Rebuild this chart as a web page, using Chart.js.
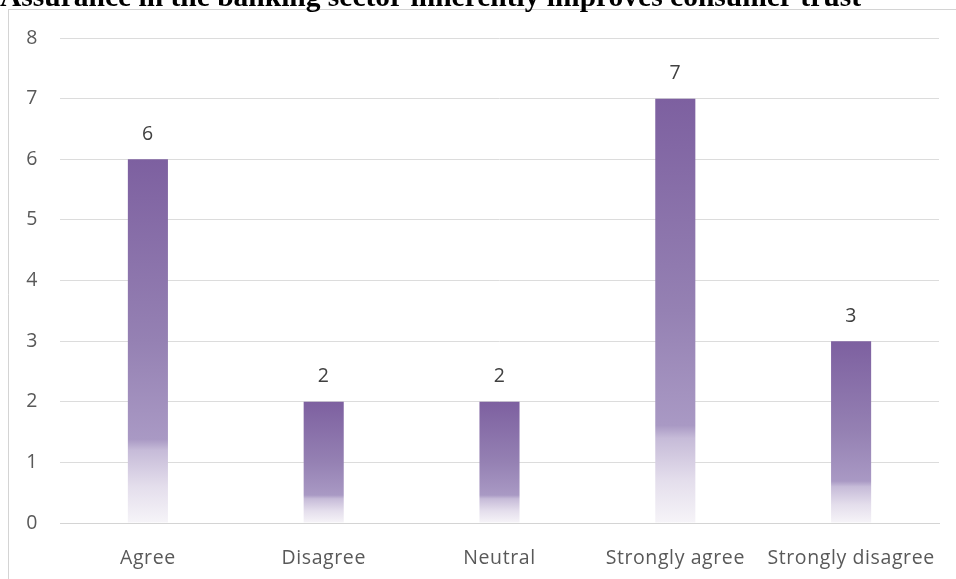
<!DOCTYPE html>
<html>
<head>
<meta charset="utf-8">
<script src="https://cdn.jsdelivr.net/npm/chart.js@4.4.1/dist/chart.umd.min.js"></script>
<style>
  html, body { margin: 0; padding: 0; background: #fff; overflow: hidden; }
  #wrap { position: relative; width: 956px; height: 579px; }
</style>
</head>
<body>
<div id="wrap"><canvas id="c" width="956" height="579"></canvas></div>
<script>
const chartTitle = 'Assurance in the banking sector inherently improves consumer trust';
const categories = ['Agree', 'Disagree', 'Neutral', 'Strongly agree', 'Strongly disagree'];
const responses = [6, 2, 2, 7, 3];
const yMin = 0;
const yMax = 8;
const yStep = 1;

const labelFont = { family: "'Open Sans', sans-serif", size: 19.5 };

// Purple fill that fades to white towards the base of every bar
function barGradient(ctx) {
  const chart = ctx.chart;
  if (!chart.chartArea || ctx.raw === undefined) return '#8d73ad';
  const y = chart.scales.y;
  const top = y.getPixelForValue(ctx.raw);
  const base = y.getPixelForValue(0);
  const g = chart.ctx.createLinearGradient(0, top, 0, base);
  g.addColorStop(0, '#7d60a0');
  g.addColorStop(0.5, '#9581b3');
  g.addColorStop(0.77, '#a999c4');
  g.addColorStop(0.80, '#c6bbd8');
  g.addColorStop(0.9, '#e4deec');
  g.addColorStop(1, '#f6f4f8');
  return g;
}

// Page frame and heading drawn behind the plot
const framePlugin = {
  id: 'frame',
  beforeDraw(chart) {
    const c = chart.ctx;
    c.save();
    c.fillStyle = '#ffffff';
    c.fillRect(0, 0, chart.width, chart.height);
    c.strokeStyle = '#d4d4d4';
    c.lineWidth = 1;
    c.beginPath();
    c.moveTo(8, 9.5);
    c.lineTo(chart.width, 9.5);
    c.moveTo(8.5, 9.5);
    c.lineTo(8.5, chart.height);
    c.stroke();
    c.fillStyle = '#000000';
    c.font = "bold 29.5px 'Liberation Serif', 'Times New Roman', serif";
    c.textAlign = 'left';
    c.textBaseline = 'alphabetic';
    c.fillText(chartTitle, 0, 6);
    c.restore();
    // slightly open tracking for the axis and value text that follows
    c.letterSpacing = '0.6px';
  }
};

// Value written above each bar
const valueLabels = {
  id: 'valueLabels',
  afterDatasetsDraw(chart) {
    const c = chart.ctx;
    const meta = chart.getDatasetMeta(0);
    c.save();
    c.fillStyle = '#404040';
    c.font = `${labelFont.size}px ${labelFont.family}`;
    c.textAlign = 'center';
    c.textBaseline = 'middle';
    meta.data.forEach((bar, i) => {
      c.fillText(String(responses[i]), bar.x, bar.y - 25);
    });
    c.restore();
  }
};

new Chart(document.getElementById('c'), {
  type: 'bar',
  data: {
    labels: categories,
    datasets: [{
      data: responses,
      backgroundColor: barGradient,
      borderWidth: 0,
      barPercentage: 0.228,
      categoryPercentage: 1
    }]
  },
  options: {
    responsive: false,
    animation: false,
    devicePixelRatio: 1,
    layout: { padding: { left: 0, right: 17, top: 38, bottom: 0 } },
    plugins: {
      legend: { display: false },
      title: { display: false },
      tooltip: { enabled: false }
    },
    scales: {
      x: {
        grid: { display: false },
        border: { color: '#d4d4d4' },
        ticks: { color: '#595959', font: labelFont, padding: 16, maxRotation: 0, autoSkip: false },
        afterFit(s) { s.height = 56; }
      },
      y: {
        min: yMin,
        max: yMax,
        grid: { color: '#dcdcdc', drawTicks: false },
        border: { display: false },
        ticks: { stepSize: yStep, color: '#595959', font: labelFont, padding: 22 },
        afterFit(s) { s.width = 60; }
      }
    }
  },
  plugins: [framePlugin, valueLabels]
});
</script>
</body>
</html>
